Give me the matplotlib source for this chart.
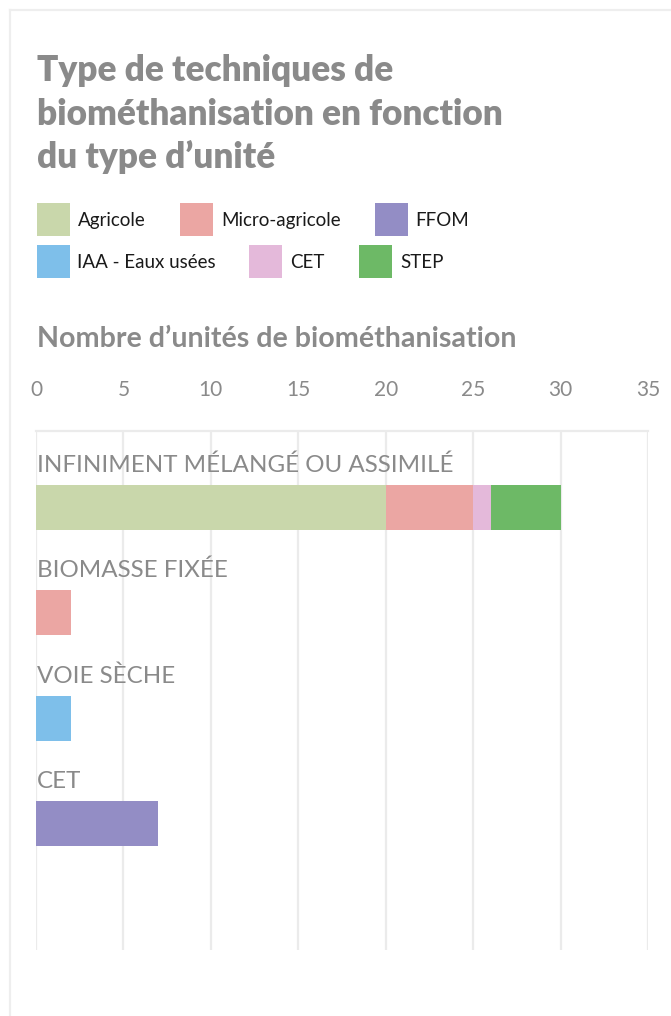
import matplotlib
matplotlib.use("Agg")
import matplotlib.pyplot as plt
from matplotlib.patches import Rectangle
from matplotlib.lines import Line2D
import numpy as np

# ---- data ----
categories = ["INFINIMENT MÉLANGÉ OU ASSIMILÉ", "BIOMASSE FIXÉE", "VOIE SÈCHE", "CET"]
series_names = ["Agricole", "Micro-agricole", "FFOM", "IAA - Eaux usées", "CET", "STEP"]
agricole = [20, 0, 0, 0]
micro_agricole = [5, 2, 0, 0]
ffom = [0, 0, 0, 7]
iaa = [0, 0, 2, 0]
cet = [1, 0, 0, 0]
step = [4, 0, 0, 0]
series_values = [agricole, micro_agricole, ffom, iaa, cet, step]
colors = ["#C9D7AB", "#EBA6A3", "#938DC5", "#7EBFEA", "#E4B9DA", "#6DB966"]
xticks = [0, 5, 10, 15, 20, 25, 30, 35]

title_lines = ["Type de techniques de", "biométhanisation en fonction", "du type d\u2019unité"]
subtitle = "Nombre d\u2019unités de biométhanisation"

W, H = 671, 1016
fig = plt.figure(figsize=(W / 100, H / 100), dpi=100)
FONT = "Lato"
GRAY = "#8a8a8a"
GRID = "#ebebeb"

def fx(px):
    return px / W

def fy(py):
    return 1 - py / H

# outer frame lines
fig.add_artist(Line2D([fx(10), 1], [fy(10), fy(10)], color="#eeeeee", lw=1.6, transform=fig.transFigure))
fig.add_artist(Line2D([fx(10), fx(10)], [fy(10), 0], color="#eeeeee", lw=1.6, transform=fig.transFigure))

# title
for txt, base in zip(title_lines, [81, 125, 168]):
    fig.text(fx(37), fy(base), txt, fontsize=25.3, fontweight="heavy", color=GRAY,
             family=FONT, va="baseline", ha="left")

# legend
leg_items = [
    (0, 37, 78, 203), (1, 180, 221, 203), (2, 375, 415, 203),
    (3, 37, 77, 245), (4, 249, 290, 245), (5, 359, 400, 245),
]
for idx, sx, tx, sy in leg_items:
    fig.add_artist(Rectangle((fx(sx), fy(sy + 33)), 33 / W, 33 / H, color=colors[idx],
                             transform=fig.transFigure, lw=0))
    fig.text(fx(tx), fy(sy + 17), series_names[idx], fontsize=13.5, color="#1a1a1a",
             family=FONT, va="center", ha="left")

# subtitle
fig.text(fx(37), fy(347), subtitle, fontsize=20.6, fontweight="bold", color=GRAY,
         family=FONT, va="baseline", ha="left")

# axes
ax_left, ax_right, ax_top, ax_bot = 36, 648, 431, 950
ax = fig.add_axes([fx(ax_left), fy(ax_bot), (ax_right - ax_left) / W, (ax_bot - ax_top) / H])
spacing = 105.3
ymin = -(507.5 - ax_top) / spacing
ymax = ymin + (ax_bot - ax_top) / spacing
bar_h = 45 / spacing
y = np.arange(len(categories))

left = np.zeros(len(categories))
for vals, col in zip(series_values, colors):
    vals = np.array(vals, dtype=float)
    ax.barh(y, vals, left=left, height=bar_h, color=col, lw=0, zorder=3)
    left += vals

for yi, cat in zip(y, categories):
    ax.text(0.05, yi - bar_h / 2 - 13 / spacing, cat, fontsize=17.4, color=GRAY,
            family=FONT, va="baseline", ha="left", zorder=4)

ax.set_xlim(0, 35)
ax.set_ylim(ymax, ymin)
ax.set_xticks(xticks)
ax.set_yticks([])
ax.xaxis.tick_top()
ax.tick_params(axis="x", length=0, pad=22, labelsize=15, labelcolor=GRAY)
for lab in ax.get_xticklabels():
    lab.set_family(FONT)
ax.grid(axis="x", color=GRID, lw=1.6, zorder=0)
for s in ["bottom", "left", "right"]:
    ax.spines[s].set_visible(False)
ax.spines["top"].set_color(GRID)
ax.spines["top"].set_linewidth(1.6)
ax.set_facecolor("none")

fig.savefig("out.png", dpi=100)
